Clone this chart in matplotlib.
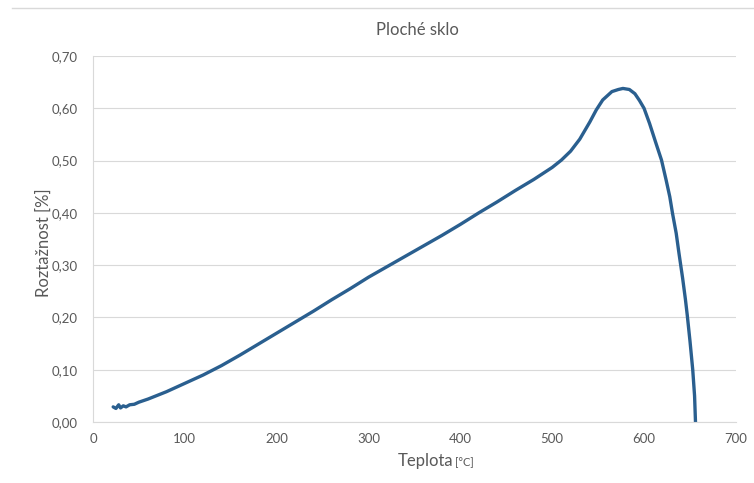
import matplotlib
matplotlib.use("Agg")
import matplotlib.pyplot as plt
from matplotlib.lines import Line2D
from matplotlib.ticker import FuncFormatter

plt.rcParams['font.family'] = ['Lato', 'DejaVu Sans']

# temperature [°C] and relative expansion [%]
teplota = [22, 25, 28, 30, 33, 36, 40, 45, 50, 60, 70, 80, 90, 100,
           120, 140, 160, 180, 200, 220, 240, 260, 280, 300, 320, 340,
           360, 380, 400, 420, 440, 460, 480, 500, 510, 520, 530, 541,
           548, 555, 565, 572, 577, 584, 590, 595, 600, 606, 613, 619,
           624, 628, 631, 635, 638, 642, 645, 647, 650, 653, 655, 656]
roztaznost = [0.029, 0.026, 0.033, 0.027, 0.031, 0.029, 0.033, 0.034,
              0.038, 0.044, 0.051, 0.058, 0.066, 0.074,
              0.090, 0.108, 0.128, 0.149, 0.170, 0.191, 0.212, 0.234,
              0.255, 0.277, 0.297, 0.317, 0.337, 0.357, 0.378, 0.400,
              0.421, 0.443, 0.464, 0.487, 0.501, 0.518, 0.541, 0.574,
              0.597, 0.616, 0.632, 0.636, 0.638, 0.636, 0.628, 0.615,
              0.600, 0.571, 0.533, 0.501, 0.463, 0.431, 0.399, 0.361,
              0.323, 0.275, 0.235, 0.205, 0.155, 0.100, 0.050, 0.0]

x_ticks = [0, 100, 200, 300, 400, 500, 600, 700]
y_ticks = [0.0, 0.1, 0.2, 0.3, 0.4, 0.5, 0.6, 0.7]

text_grey = '#595959'
line_grey = '#d9d9d9'

fig = plt.figure(figsize=(7.54, 4.83), dpi=100)
ax = fig.add_axes([0.1233, 0.1262, 0.8527, 0.7578])

ax.plot(teplota, roztaznost, color='#2a5f8f', lw=2.4, solid_capstyle='round')

ax.set_xlim(0, 700)
ax.set_ylim(0, 0.7)
ax.set_xticks(x_ticks)
ax.set_yticks(y_ticks)
ax.yaxis.set_major_formatter(FuncFormatter(lambda v, p: f"{v:.2f}".replace('.', ',')))
ax.tick_params(axis='both', length=0, labelsize=9.5, colors=text_grey)
ax.tick_params(axis='x', pad=8)
ax.tick_params(axis='y', pad=11)

ax.grid(axis='y', color=line_grey, lw=0.8)
ax.set_axisbelow(True)
for side in ['top', 'right']:
    ax.spines[side].set_visible(False)
for side in ['left', 'bottom']:
    ax.spines[side].set_color(line_grey)
    ax.spines[side].set_linewidth(0.8)

fig.text(0.553, 0.937, "Ploché sklo", ha='center', va='center',
         fontsize=12, color=text_grey)
fig.text(0.058, 0.497, "Roztažnost [%]", ha='center', va='center',
         rotation=90, fontsize=12, color=text_grey)
fig.text(0.601, 0.035, "Teplota", ha='right', va='baseline',
         fontsize=12, color=text_grey)
fig.text(0.604, 0.035, "[°C]", ha='left', va='baseline',
         fontsize=8, color=text_grey)

# thin border line along the top of the chart
fig.add_artist(Line2D([0.016, 1.0], [0.983, 0.983], color=line_grey, lw=1.0,
                      transform=fig.transFigure))

fig.savefig("out.png", dpi=100)
